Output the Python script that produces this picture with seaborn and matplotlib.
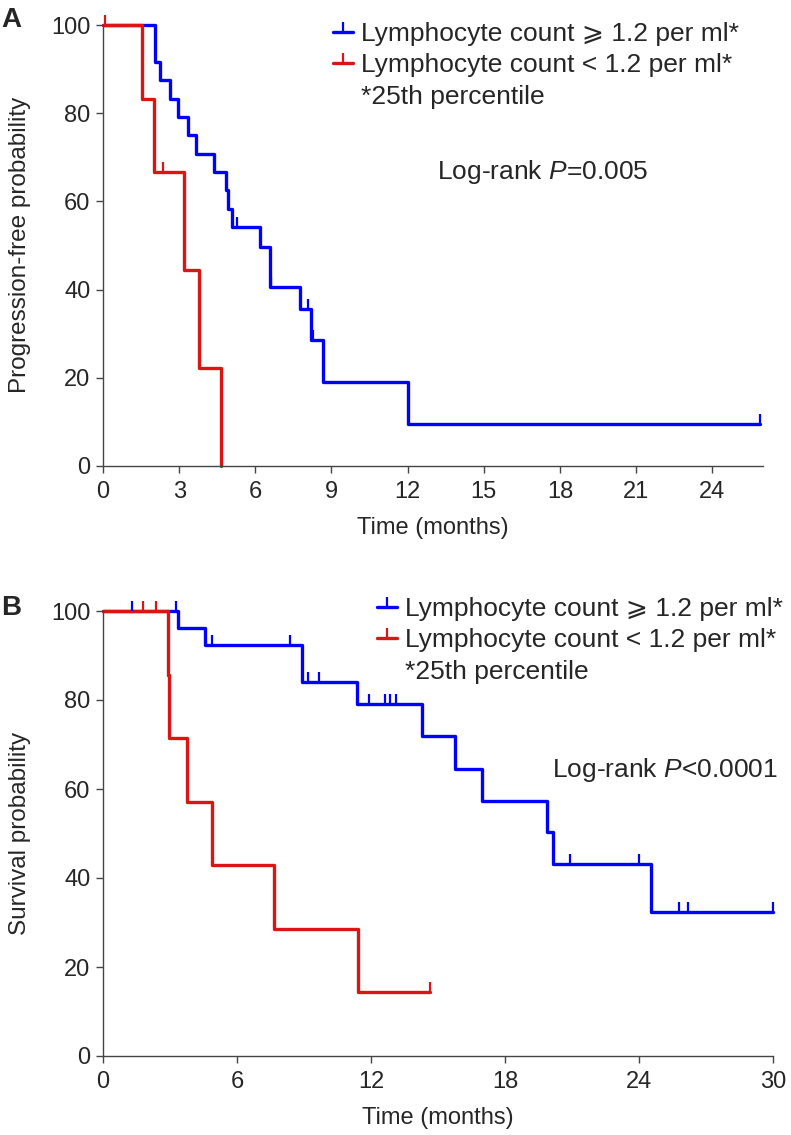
import numpy as np
import pandas as pd
import matplotlib
matplotlib.use("Agg")
import matplotlib.pyplot as plt
from matplotlib.lines import Line2D
import seaborn as sns

# ---------------- data ----------------
# Panel A: progression-free survival
a_hi_t = [0, 2.05, 2.24, 2.64, 2.97, 3.36, 3.66, 4.37, 4.84, 4.93, 5.07, 6.18, 6.57, 7.76, 8.19, 8.66, 12.0, 25.9]
a_hi_s = [100, 91.7, 87.5, 83.3, 79.2, 75.0, 70.8, 66.7, 62.5, 58.3, 54.2, 49.6, 40.6, 35.5, 28.6, 19.0, 9.5, 9.5]
a_hi_cens = [5.26, 6.62, 8.07, 8.27, 25.9]
a_lo_t = [0, 1.55, 2.02, 3.19, 3.78, 4.66]
a_lo_s = [100, 83.3, 66.7, 44.4, 22.2, 0]
a_lo_cens = [0.08, 2.35]

# Panel B: overall survival
b_hi_t = [0, 3.37, 4.57, 8.90, 11.36, 14.30, 15.76, 16.96, 19.87, 20.14, 24.53, 30.0]
b_hi_s = [100, 96.2, 92.3, 84.1, 79.1, 72.0, 64.6, 57.4, 50.3, 43.1, 32.3, 32.3]
b_hi_cens = [1.29, 3.27, 4.87, 8.37, 9.19, 9.69, 11.93, 12.63, 12.85, 13.12, 20.91, 24.02, 25.81, 26.21, 30.0]
b_lo_t = [0, 2.90, 2.97, 3.77, 4.87, 7.67, 11.41, 14.64]
b_lo_s = [100, 85.7, 71.4, 57.1, 42.9, 28.6, 14.3, 14.3]
b_lo_cens = [1.78, 2.37, 14.64]

groups = ["Lymphocyte count \u2a7e 1.2 per ml*", "Lymphocyte count < 1.2 per ml*"]
footnote = "*25th percentile"
ylabels = ["Progression-free probability", "Survival probability"]
xlabel = "Time (months)"
pvals = ["Log-rank $\\mathit{P}$=0.005", "Log-rank $\\mathit{P}$<0.0001"]
panel_letters = ["A", "B"]
xticks_a = [0, 3, 6, 9, 12, 15, 18, 21, 24]
xticks_b = [0, 6, 12, 18, 24, 30]
yticks = [0, 20, 40, 60, 80, 100]

BLUE = "#0000FF"
RED = "#DC1414"

# ---------------- style ----------------
sns.set_theme(style="ticks")
plt.rcParams["font.family"] = ["Liberation Sans", "DejaVu Sans"]
plt.rcParams["mathtext.fontset"] = "custom"
plt.rcParams["mathtext.rm"] = "Liberation Sans"
plt.rcParams["mathtext.it"] = "Liberation Sans:italic"

W, H = 791, 1135
fig = plt.figure(figsize=(W / 100, H / 100), dpi=100)


def fx(px):
    return px / W


def fy(py):
    return 1 - py / H


def level_at(ts, ss, t):
    idx = np.searchsorted(np.asarray(ts), t, side="right") - 1
    return np.asarray(ss)[idx]


panels = [
    dict(rect=[fx(103), fy(466), fx(763) - fx(103), fy(25) - fy(466)], xmax=26, xticks=xticks_a,
         hi=(a_hi_t, a_hi_s, a_hi_cens), lo=(a_lo_t, a_lo_s, a_lo_cens),
         leg=(333, 22), pv=(437, 172), letter_y=20, ylab_y=245),
    dict(rect=[fx(103), fy(1056), fx(773) - fx(103), fy(611) - fy(1056)], xmax=30, xticks=xticks_b,
         hi=(b_hi_t, b_hi_s, b_hi_cens), lo=(b_lo_t, b_lo_s, b_lo_cens),
         leg=(377, 597), pv=(552, 770), letter_y=608, ylab_y=833),
]

for i, p in enumerate(panels):
    ax = fig.add_axes(p["rect"])
    rows = []
    for g, (ts, ss, _) in zip(groups, [p["hi"], p["lo"]]):
        for t, s in zip(ts, ss):
            rows.append({"time": t, "surv": s, "group": g})
    df = pd.DataFrame(rows)
    sns.lineplot(data=df, x="time", y="surv", hue="group", palette={groups[0]: BLUE, groups[1]: RED},
                 estimator=None, sort=False, drawstyle="steps-post", linewidth=2.4,
                 legend=False, ax=ax, clip_on=False)
    for (ts, ss, cens), col in zip([p["hi"], p["lo"]], [BLUE, RED]):
        lv = [level_at(ts, ss, c) for c in cens]
        ax.plot(cens, lv, ls="none", marker=2, ms=7, mew=1.6, color=col, clip_on=False)

    ax.set_xlim(0, p["xmax"])
    ax.set_ylim(0, 100)
    ax.set_xticks(p["xticks"])
    ax.set_yticks(yticks)
    ax.tick_params(axis="both", labelsize=17, length=5, width=1, color="#444444")
    ax.tick_params(axis="x", pad=6)
    ax.tick_params(axis="y", pad=4)
    for s in ["top", "right"]:
        ax.spines[s].set_visible(False)
    for s in ["left", "bottom"]:
        ax.spines[s].set_color("#444444")
        ax.spines[s].set_linewidth(1.0)
    ax.set_xlabel(xlabel, fontsize=17, labelpad=10)
    ax.set_ylabel("")
    fig.text(fx(20), fy(p["ylab_y"]), ylabels[i], rotation=90, ha="center", va="center", fontsize=17.5)
    fig.text(fx(1), fy(p["letter_y"]), panel_letters[i], ha="left", va="center", fontsize=20,
             fontweight="bold")

    handles = [Line2D([0], [0], color=BLUE, lw=2.4, marker=2, ms=7, mew=1.6),
               Line2D([0], [0], color=RED, lw=2.4, marker=2, ms=7, mew=1.6),
               Line2D([0], [0], color="none", lw=0)]
    lx, ly = p["leg"]
    ax.legend(handles, groups + [footnote], loc="upper left", bbox_to_anchor=(fx(lx), fy(ly)),
              bbox_transform=fig.transFigure, frameon=False, fontsize=19, handlelength=0.75,
              handletextpad=0.3, labelspacing=0.28, borderpad=0, borderaxespad=0)
    px, py = p["pv"]
    fig.text(fx(px), fy(py), pvals[i], ha="left", va="center", fontsize=19)

fig.savefig("out.png", dpi=100)
